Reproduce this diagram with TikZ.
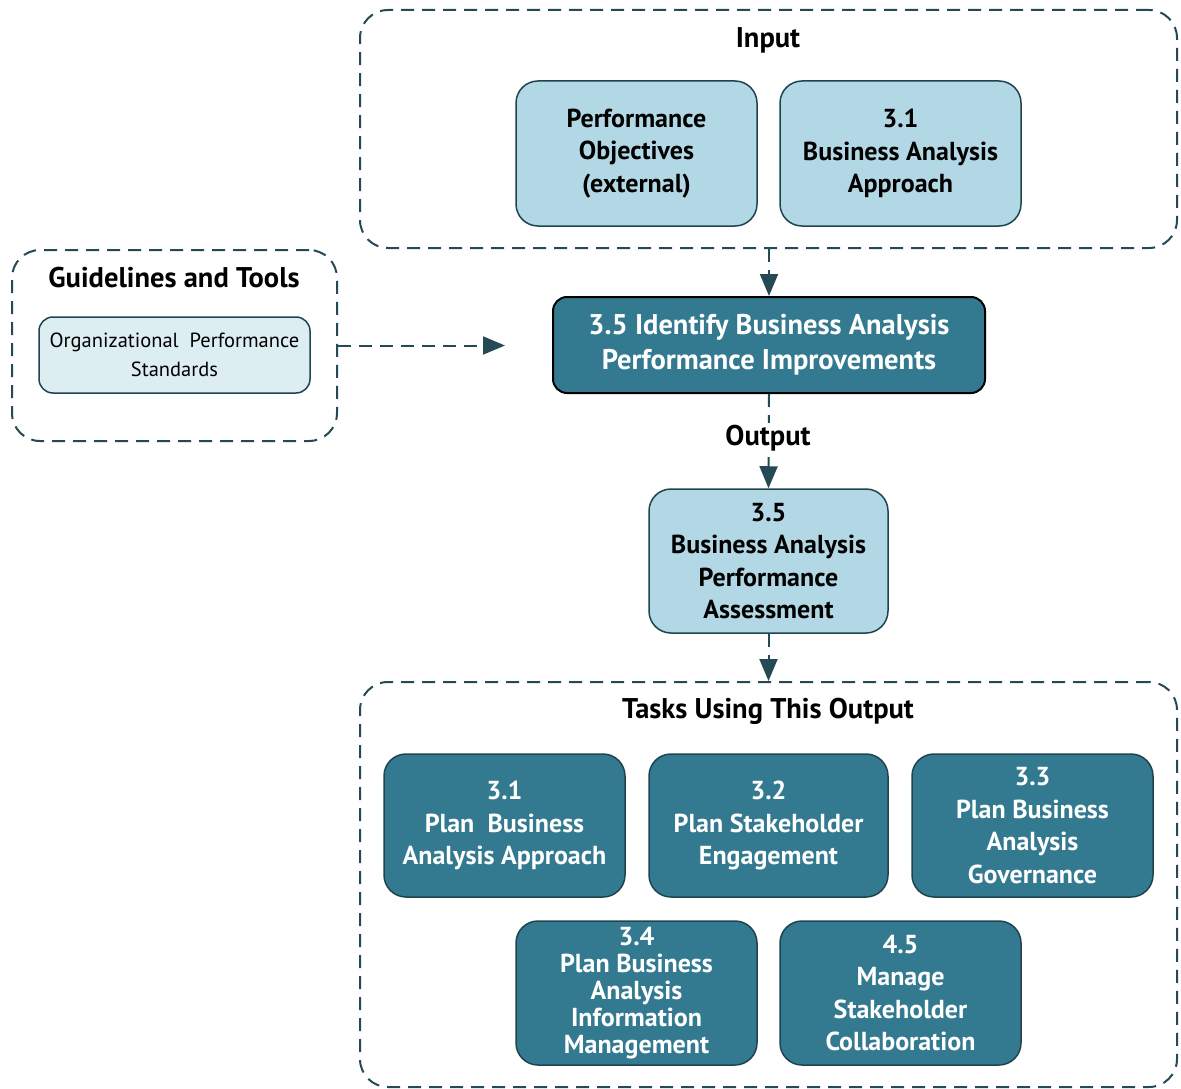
\documentclass[tikz,border=0pt]{standalone}
\usepackage{fontspec}
\setmainfont{PT Sans}
\usetikzlibrary{arrows.meta}
\definecolor{dteal}{HTML}{337A91}
\definecolor{lblue}{HTML}{B3D8E5}
\definecolor{vlblue}{HTML}{DDEEF3}
\definecolor{edgec}{HTML}{1E4450}
\definecolor{dashc}{HTML}{264A55}
\tikzset{
  box/.style={draw=edgec, line width=1.5pt, rounded corners=22pt, minimum width=241pt, minimum height=145pt, align=center, inner sep=0pt, font=\bfseries\fontsize{26}{32.5}\selectfont},
  inbox/.style={box, fill=lblue},
  taskbox/.style={box, fill=dteal, text=white},
  group/.style={draw=dashc, line width=2pt, dash pattern=on 13pt off 8pt, rounded corners=28pt, inner sep=0pt},
  grouplabel/.style={font=\bfseries\fontsize{28.5}{32}\selectfont, inner sep=1pt},
  flow/.style={draw=dashc, line width=2pt, dash pattern=on 13pt off 8pt, -{Triangle[length=22pt,width=18pt]}}
}
\begin{document}
\begin{tikzpicture}[x=1pt,y=-1pt]
\useasboundingbox (0,0) rectangle (1181,1089);
% groups
\node[group, minimum width=817pt, minimum height=238pt] (input) at (768.5,129) {};
\node[grouplabel] (inlabel) at (768,40) {Input};
\node[group, minimum width=325pt, minimum height=191pt] (guide) at (174.5,345.5) {};
\node[grouplabel] (guidelabel) at (174,278) {Guidelines and Tools};
\node[group, minimum width=817pt, minimum height=405pt] (tasks) at (768.5,884.5) {};
\node[grouplabel] (taskslabel) at (768,711) {Tasks Using This Output};
% input boxes
\node[inbox] (perf) at (636.5,153.5) {Performance\\Objectives\\(external)};
\node[inbox] (ba31) at (900.5,153.5) {3.1\\Business Analysis\\Approach};
% guideline box
\node[draw=edgec, line width=1.5pt, fill=vlblue, rounded corners=14pt, minimum width=271pt, minimum height=76pt, align=center, inner sep=0pt, font=\fontsize{20.5}{29}\selectfont] (ops) at (174.5,355) {Organizational\ \ Performance\\Standards};
% main
\node[draw=black, line width=2pt, fill=dteal, text=white, rounded corners=14pt, minimum width=432pt, minimum height=96pt, align=center, inner sep=0pt, font=\bfseries\fontsize{28.5}{35}\selectfont] (main) at (769,345) {3.5 Identify Business Analysis\\Performance Improvements};
% output
\node[inbox, minimum width=239pt, minimum height=144pt] (out) at (768.5,561) {3.5\\Business Analysis\\Performance\\Assessment};
% tasks
\node[taskbox, minimum height=143pt] (t31) at (504.5,825.5) {3.1\\Plan\ \ Business\\Analysis Approach};
\node[taskbox, minimum width=239pt, minimum height=143pt] (t32) at (768.5,825.5) {3.2\\Plan Stakeholder\\Engagement};
\node[taskbox, minimum height=143pt] (t33) at (1032.5,825.5) {3.3\\Plan Business\\Analysis\\Governance};
\node[taskbox, minimum height=144pt, font=\bfseries\fontsize{26}{27}\selectfont] (t34) at (636.5,993) {3.4\\Plan Business\\Analysis\\Information\\Management};
\node[taskbox, minimum height=144pt] (t45) at (900.5,993) {4.5\\Manage\\Stakeholder\\Collaboration};
% connectors
\coordinate (gend) at (505,345.5);
\draw[flow] (input.south -| main.north) -- (main.north);
\draw[flow] (guide.east) -- (gend);
\draw[flow] (main.south) -- (out.north);
\node[grouplabel, fill=white, inner sep=2pt] (outlabel) at (768,438) {Output};
\draw[flow] (out.south) -- (tasks.north -| out.south);
\end{tikzpicture}
\end{document}
